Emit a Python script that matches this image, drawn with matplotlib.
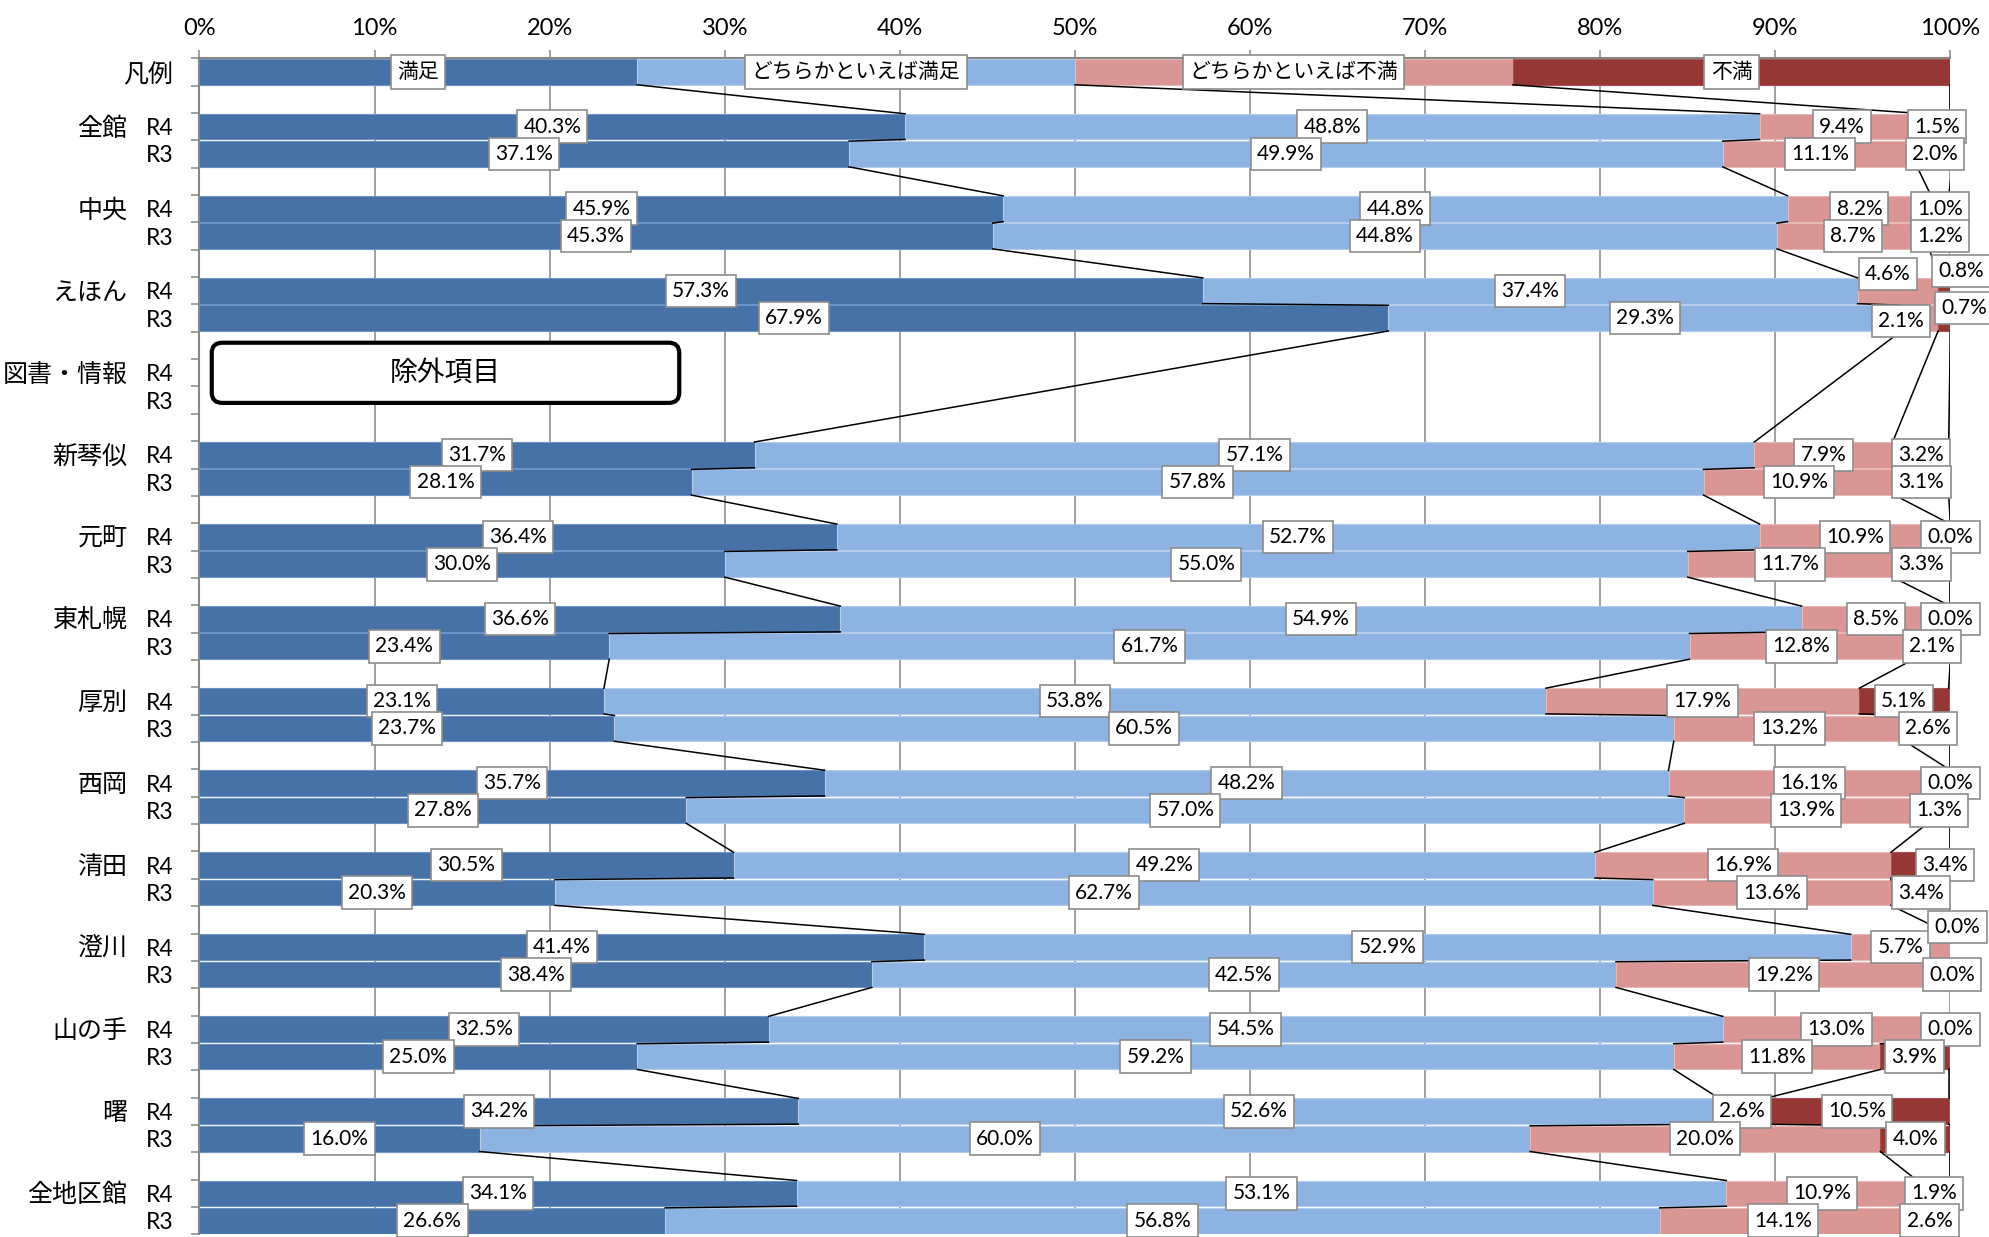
import matplotlib
matplotlib.use('Agg')
from matplotlib import pyplot as plt
from matplotlib.patches import FancyBboxPatch

# 館名 (図書・情報 は除外項目)
groups = ['全館', '中央', 'えほん', '図書・情報', '新琴似', '元町', '東札幌', '厚別',
          '西岡', '清田', '澄川', '山の手', '曙', '全地区館']
years = ['R4', 'R3']
series_names = ['満足', 'どちらかといえば満足', 'どちらかといえば不満', '不満']
legend_values = [25, 25, 25, 25]
excluded = '図書・情報'

# R4 (%)
r4_manzoku = [40.3, 45.9, 57.3, None, 31.7, 36.4, 36.6, 23.1, 35.7, 30.5, 41.4, 32.5, 34.2, 34.1]
r4_yaya_manzoku = [48.8, 44.8, 37.4, None, 57.1, 52.7, 54.9, 53.8, 48.2, 49.2, 52.9, 54.5, 52.6, 53.1]
r4_yaya_fuman = [9.4, 8.2, 4.6, None, 7.9, 10.9, 8.5, 17.9, 16.1, 16.9, 5.7, 13.0, 2.6, 10.9]
r4_fuman = [1.5, 1.0, 0.8, None, 3.2, 0.0, 0.0, 5.1, 0.0, 3.4, 0.0, 0.0, 10.5, 1.9]

# R3 (%)
r3_manzoku = [37.1, 45.3, 67.9, None, 28.1, 30.0, 23.4, 23.7, 27.8, 20.3, 38.4, 25.0, 16.0, 26.6]
r3_yaya_manzoku = [49.9, 44.8, 29.3, None, 57.8, 55.0, 61.7, 60.5, 57.0, 62.7, 42.5, 59.2, 60.0, 56.8]
r3_yaya_fuman = [11.1, 8.7, 2.1, None, 10.9, 11.7, 12.8, 13.2, 13.9, 13.6, 19.2, 11.8, 20.0, 14.1]
r3_fuman = [2.0, 1.2, 0.7, None, 3.1, 3.3, 2.1, 2.6, 1.3, 3.4, 0.0, 3.9, 4.0, 2.6]

colors = ['#4672A8', '#8DB3E2', '#DA9694', '#953735']
edges = ['#6D92C4', '#B3CCEC', '#E8B8B7', '#A9504E']
grey = '#868686'
px = 72 / 100.  # pixel -> point
latin = ['Lato', 'Noto Sans CJK JP']
cjk = ['Noto Sans CJK JP', 'DejaVu Sans']

# 重なったラベルだけ手で少しずらす (px, 上が正)
label_shift = {
    ('えほん', 'R4', 2): (-10, 17),
    ('えほん', 'R4', 3): (16, 20),
    ('えほん', 'R3', 2): (-19, -3),
    ('えほん', 'R3', 3): (20, 10),
    ('澄川', 'R4', 3): (7, 20),
    ('清田', 'R4', 3): (24, 0),
}

# 行の並び: 凡例, 空き, (R4, R3, 空き) x 館
rows = [(0, '凡例', None, legend_values)]
r4_all = list(zip(r4_manzoku, r4_yaya_manzoku, r4_yaya_fuman, r4_fuman))
r3_all = list(zip(r3_manzoku, r3_yaya_manzoku, r3_yaya_fuman, r3_fuman))
for g, name in enumerate(groups):
    rows.append((2 + 3 * g, 'R4', name, r4_all[g]))
    rows.append((3 + 3 * g, 'R3', name, r3_all[g]))
n_cat = rows[-1][0] + 1

fig = plt.figure(figsize=(19.89, 12.37), dpi=100)
ax = fig.add_axes([0.1003, 0.0021, 0.8803, 0.9508])
ax.set_xlim(0, 100)
ax.set_ylim(n_cat - 0.5, -0.5)
bh = 0.94

drawn = []
for y, lab, name, vals in rows:
    if vals[0] is None:
        continue
    left = 0
    ends = []
    for k, v in enumerate(vals):
        ax.barh(y, v, left=left, height=bh, color=colors[k], edgecolor=edges[k],
                linewidth=0.8, zorder=2)
        left += v
        ends.append(left)
    drawn.append((y, lab, name, vals, ends))

# 区分線 (series lines)
for a, b in zip(drawn[:-1], drawn[1:]):
    for k in range(4):
        ax.plot([a[4][k], b[4][k]], [a[0] + bh / 2, b[0] - bh / 2], color='black',
                linewidth=1.1, zorder=3)

# データラベル
for y, lab, name, vals, ends in drawn:
    for k, v in enumerate(vals):
        xc = ends[k] - v / 2
        if name is None:
            txt, fam, fs = series_names[k], cjk, 15
        else:
            txt, fam, fs = '{:.1f}%'.format(v), latin, 15
        dx, dy = label_shift.get((name, lab, k), (0, 0))
        ax.annotate(txt, xy=(xc, y), xytext=(dx * px, dy * px), textcoords='offset points',
                    ha='center', va='center', fontsize=fs, family=fam, zorder=5,
                    annotation_clip=False,
                    bbox=dict(boxstyle='square,pad=0.3', fc='white', ec='#8C8C8C', lw=1.2))

# 除外項目
ey = [r[0] for r in rows if r[2] == excluded and r[1] == 'R4'][0]
box = FancyBboxPatch((0.7, ey - 1.1), 26.7, 2.2, boxstyle='round,pad=0,rounding_size=0.6',
                     mutation_aspect=0.62, fc='white', ec='black', lw=3, zorder=4)
ax.add_patch(box)
ax.text(0.7 + 26.7 / 2, ey, '除外項目', ha='center', va='center', fontsize=20,
        family=cjk, zorder=5)

# 軸
ax.xaxis.tick_top()
ax.set_xticks(range(0, 101, 10))
ax.set_xticklabels(['{}%'.format(v) for v in range(0, 101, 10)], fontsize=17, family=latin)
ax.tick_params(axis='x', length=5.8, width=1.1, color=grey, pad=8)
ax.grid(axis='x', color=grey, linewidth=1.1)
ax.set_axisbelow(True)

ax.set_yticks([r[0] for r in rows])
ax.set_yticklabels([r[1] for r in rows])
for t, r in zip(ax.get_yticklabels(), rows):
    if r[2] is None:
        t.set_fontsize(18)
        t.set_family(cjk)
    else:
        t.set_fontsize(16.5)
        t.set_family(latin)
ax.tick_params(axis='y', which='major', length=0, pad=26 * px)
ax.set_yticks([i - 0.5 for i in range(n_cat + 1)], minor=True)
ax.tick_params(axis='y', which='minor', length=5.8, width=1.1, color=grey)

for y, lab, name, vals in rows:
    if lab == 'R4':
        ax.annotate(name, xy=(0, y), xycoords=('axes fraction', 'data'),
                    xytext=(-72 * px, -2 * px), textcoords='offset points',
                    ha='right', va='center', fontsize=18, family=cjk)

for s in ['right', 'bottom']:
    ax.spines[s].set_visible(False)
for s in ['left', 'top']:
    ax.spines[s].set_color(grey)
    ax.spines[s].set_linewidth(1.5)

plt.savefig('out.png', dpi=100)
